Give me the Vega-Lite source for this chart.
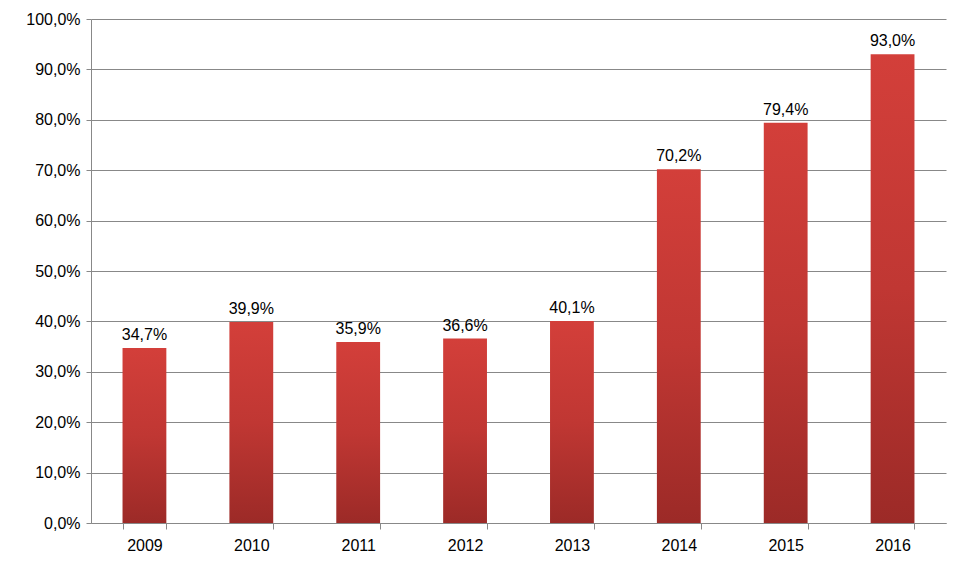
{
  "$schema": "https://vega.github.io/schema/vega-lite/v6.json",
  "width": 855,
  "height": 504,
  "autosize": {"type": "none"},
  "padding": {"left": 91, "top": 19, "right": 14, "bottom": 53},
  "background": "white",
  "data": {"values": [
    {"year": "2009", "value": 0.347},
    {"year": "2010", "value": 0.399},
    {"year": "2011", "value": 0.359},
    {"year": "2012", "value": 0.366},
    {"year": "2013", "value": 0.401},
    {"year": "2014", "value": 0.702},
    {"year": "2015", "value": 0.794},
    {"year": "2016", "value": 0.930}
  ]},
  "encoding": {
    "x": {"field": "year", "type": "ordinal", "title": null,
      "scale": {"paddingInner": 0.59, "paddingOuter": 0.295},
      "axis": {"labelAngle": 0, "labelFont": "Liberation Sans", "labelFontSize": 16, "labelColor": "#000", "labelPadding": 8,
        "tickBand": "extent", "tickColor": "#888", "domainColor": "#888", "tickSize": 6}},
    "y": {"field": "value", "type": "quantitative", "title": null,
      "scale": {"domain": [0, 1]},
      "axis": {"values": [0,0.1,0.2,0.3,0.4,0.5,0.6,0.7,0.8,0.9,1.0],
        "labelExpr": "replace(format(datum.value, '.1%'), '.', ',')",
        "labelFont": "Liberation Sans", "labelFontSize": 16, "labelColor": "#000", "labelPadding": 6,
        "gridColor": "#888", "domainColor": "#888", "tickColor": "#888", "tickSize": 5}}
  },
  "layer": [
    {"mark": {"type": "bar", "color": {"gradient": "linear", "x1": 0, "y1": 0, "x2": 0, "y2": 1,
      "stops": [{"offset": 0, "color": "#d33f3a"}, {"offset": 0.5, "color": "#c03733"}, {"offset": 1, "color": "#9c2a27"}]}}},
    {"mark": {"type": "text", "dy": -13, "font": "Liberation Sans", "fontSize": 16, "color": "#000"},
      "encoding": {"text": {"field": "label"}},
      "transform": [{"calculate": "replace(format(datum.value, '.1%'), '.', ',')", "as": "label"}]}
  ],
  "config": {"view": {"stroke": null}}
}
